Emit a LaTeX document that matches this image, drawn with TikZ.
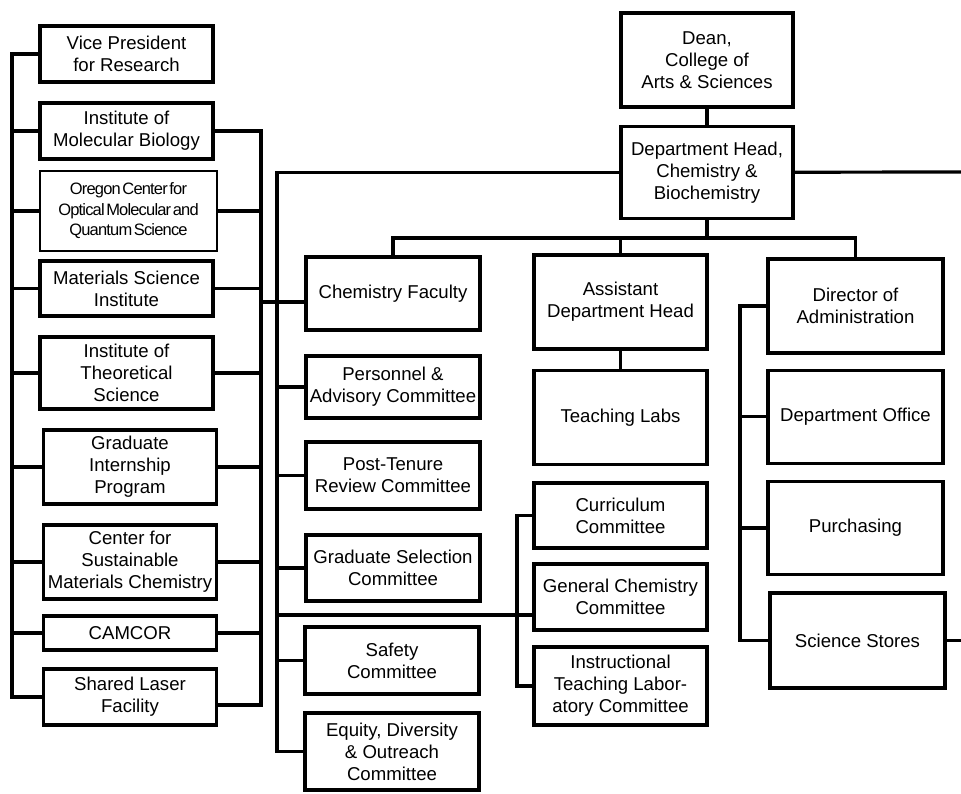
\documentclass[tikz,border=0pt]{standalone}
\usepackage{fontspec}
\setmainfont{Liberation Sans}
\newfontfamily\narrowfont{Liberation Sans}[LetterSpace=-5]
\newcommand\ocqfont{\fontsize{16.5}{20.5}\narrowfont\spaceskip=1.6pt plus 0.5pt\relax}
\usetikzlibrary{positioning,shadows}

\begin{document}
\begin{tikzpicture}[x=1pt, y=-1pt,
                    orgbox/.style={draw=black, fill=white, line width=3.2pt, align=center, inner sep=1pt,
                                   minimum width=173pt, font=\fontsize{18.6}{22}\selectfont,
                                   drop shadow={shadow xshift=1.5pt, shadow yshift=-1.5pt, opacity=0.3}},
                    thinbox/.style={draw=black, fill=white, line width=2pt, align=center, inner sep=1pt,
                                   minimum width=177pt, font=\ocqfont},
                    link/.style={line width=3.2pt, line cap=rect},
                ]
                    \useasboundingbox (0,0) rectangle (961,793);

                    %Nodes, left column
                    \node[orgbox, minimum height=56pt](vp) at (126.5,54) {Vice President\\for Research};
                    \node[orgbox, minimum height=56pt](imb) at (126.5,131) {Institute of\\Molecular Biology};
                    \node[thinbox, minimum height=80pt](ocq) at (128.5,211) {Oregon Center for\\Optical Molecular and\\Quantum Science};
                    \node[orgbox, minimum height=55pt](msi) at (126.5,288.5) {Materials Science\\Institute};
                    \node[orgbox, minimum height=72pt](its) at (126.5,373) {Institute of\\Theoretical\\Science};
                    \node[orgbox, minimum height=74pt](gip) at (130,467) {Graduate\\Internship\\Program};
                    \node[orgbox, minimum height=74pt](csmc) at (130,562) {Center for\\Sustainable\\Materials Chemistry};
                    \node[orgbox, minimum height=34pt](camcor) at (130,633) {CAMCOR};
                    \node[orgbox, minimum height=56pt](slf) at (130,697) {Shared Laser\\Facility};

                    %Nodes, top
                    \node[orgbox, minimum width=172pt, minimum height=94pt](dean) at (707,60) {Dean,\\College of\\Arts \& Sciences};
                    \node[orgbox, minimum width=172pt, minimum height=92pt](dept)[below=16pt of dean] {Department Head,\\Chemistry \&\\Biochemistry};

                    %Nodes, committees
                    \node[orgbox, minimum width=174pt, minimum height=73pt](chemfac) at (393,293.5) {Chemistry Faculty};
                    \node[orgbox, minimum width=174pt, minimum height=62pt](pac) at (393,387) {Personnel \&\\Advisory Committee};
                    \node[orgbox, minimum width=174pt, minimum height=67pt](ptr) at (393,475.5) {Post-Tenure\\Review Committee};
                    \node[orgbox, minimum width=174pt, minimum height=66pt](gsc) at (393,568) {Graduate Selection\\Committee};
                    \node[orgbox, minimum width=174pt, minimum height=67pt](safety) at (392,660.5) {Safety\\Committee};
                    \node[orgbox, minimum width=174pt, minimum height=77pt](edo) at (392,751.5) {Equity, Diversity\\\& Outreach\\Committee};

                    %Nodes, teaching
                    \node[orgbox, minimum height=94pt](adh) at (620.5,302) {Assistant\\Department Head};
                    \node[orgbox, minimum height=94pt](tl)[below=18pt of adh] {Teaching Labs};
                    \node[orgbox, minimum height=65pt](cur) at (620.5,515.5) {Curriculum\\Committee};
                    \node[orgbox, minimum height=66pt](gcc) at (620.5,597) {General Chemistry\\Committee};
                    \node[orgbox, minimum height=78pt](itl) at (620.5,686) {Instructional\\Teaching Labor-\\atory Committee};

                    %Nodes, administration
                    \node[orgbox, minimum width=175pt, minimum height=94pt](doa) at (855.5,306) {Director of\\Administration};
                    \node[orgbox, minimum width=175pt, minimum height=93pt](off)[below=14pt of doa] {Department Office};
                    \node[orgbox, minimum width=175pt, minimum height=93pt](pur)[below=15pt of off] {Purchasing};
                    \node[orgbox, minimum width=175pt, minimum height=95pt](sst) at (857.5,640.5) {Science Stores};

                    %Bus points
                    \coordinate (lbus) at (12,0);
                    \coordinate (rbus) at (261,0);
                    \coordinate (mbus) at (277,0);
                    \coordinate (cbus) at (517,0);
                    \coordinate (abus) at (740,0);
                    \coordinate (dbus) at (707,238);
                    \coordinate (cfjoin) at (261,302);
                    \coordinate (gcjoin) at (277,615);
                    \coordinate (deptout) at (961,172);
                    \coordinate (sstout) at (961,640.5);

                    %Lines, left column
                    \draw[link] (vp.west) -- (vp.west -| lbus) |- (slf.west);
                    \foreach \n in {imb,ocq,msi,its,gip,csmc,camcor}
                        \draw[link] (\n.west) -- (\n.west -| lbus);
                    \draw[link] (imb.east) -- (imb.east -| rbus) |- ([yshift=-8pt]slf.east);
                    \foreach \n in {ocq,msi,its,gip,csmc,camcor}
                        \draw[link] (\n.east) -- (\n.east -| rbus);
                    \draw[link] (cfjoin) -- (cfjoin -| chemfac.west);

                    %Lines, department head
                    \draw[link] (dean) -- (dept);
                    \draw[link] (dept.east) -- (deptout);
                    \draw[link] (dept.west) -- (dept.west -| mbus) |- (edo.west);
                    \foreach \n in {pac,ptr,gsc,safety}
                        \draw[link] (\n.west) -- (\n.west -| mbus);
                    \draw[link] (dept.south) -- (dbus);
                    \draw[link] (chemfac.north) -- (chemfac.north |- dbus) -- (doa.north |- dbus) -- (doa.north);
                    \draw[link] (adh.north) -- (adh.north |- dbus);

                    %Lines, teaching
                    \draw[link] (adh) -- (tl);
                    \draw[link] (gcjoin) -- (gcjoin -| gcc.west);
                    \draw[link] (cur.west) -- (cur.west -| cbus) |- (itl.west);

                    %Lines, administration
                    \draw[link] (doa.west) -- (doa.west -| abus) |- (sst.west);
                    \draw[link] (off.west) -- (off.west -| abus);
                    \draw[link] (pur.west) -- (pur.west -| abus);
                    \draw[link] (sst.east) -- (sstout);
                \end{tikzpicture}
\end{document}
